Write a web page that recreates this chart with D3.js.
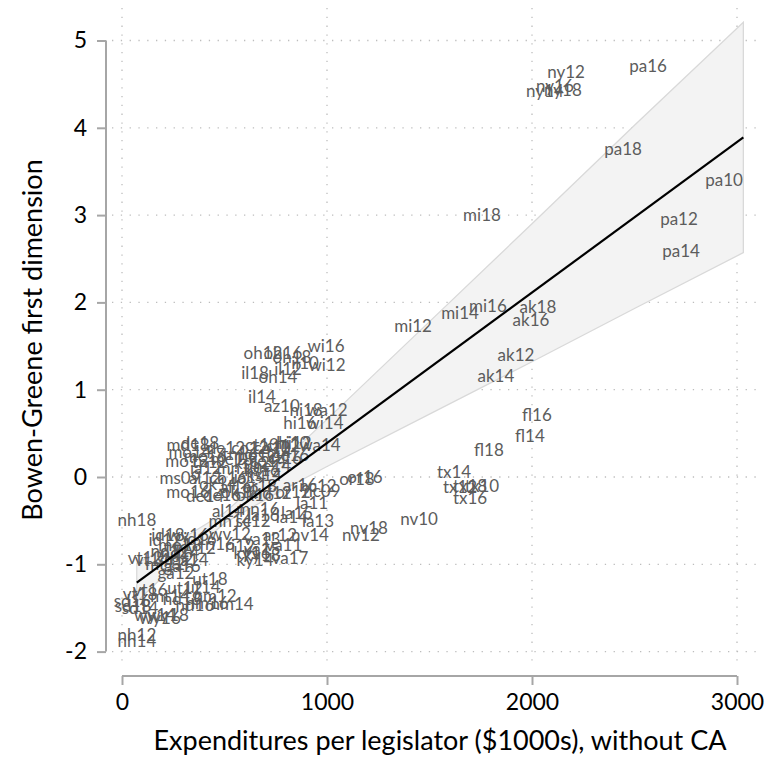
<!DOCTYPE html>
<html><head><meta charset="utf-8">
<script src="https://cdn.jsdelivr.net/npm/d3@7"></script>
<style>body{margin:0;background:#fff}svg{display:block}</style>
</head><body>
<script>
// ---- data ----
const xTicks = [0, 1000, 2000, 3000];
const yTicks = [-2, -1, 0, 1, 2, 3, 4, 5];
const xTitle = "Expenditures per legislator ($1000s), without CA";
const yTitle = "Bowen-Greene first dimension";

const labels = [
 "ny12","ny14","ny16","ny18","pa16","pa18","pa10","pa12","pa14","mi18",
 "mi12","mi14","mi16","ak18","ak16","ak12","ak14","fl16","fl14","fl18",
 "tx14","tx12","tx18","tx10","tx16","nv10","nv18","nv12","or16","or18",
 "wi16","oh12","oh16","oh18","il10","wi12","il18","il12","oh14","il14",
 "az10","hi18","wa12","hi16","wi14","hi10","wa14",
 "md18","de18","de12","co12","ct10","co10","ct12","hi12",
 "mo14","me16","tn16","ne12","ct14","ne16",
 "mo12","tn12","me18","ks12","co14","ct16",
 "ia12","mn10","ks16","ne14",
 "ms09","al12","co16","ia14","ks14",
 "ok14","al16","ar18","ar16","nc12",
 "mo16","de14","de16","ok12","ok16","md12","or12","nc09","la11",
 "al14","mn16","la15","la16",
 "nh18","mn14","sc12","la13","la14",
 "id18","wv16","id16","wv12","va13","ar12","nv14",
 "mo18","ri16","ri12","va15","va11",
 "vt12","vt14","ky16","ky18","ky14","va17",
 "nd12","nd14","sd12","ga14","ga16","ga12","wy12","mt12",
 "ut18","ut12","ut14","vt16","vt18","nm12","nm14","nm16","nd16",
 "sd18","sd16","sd14","wy14","wy18","wy16","nh12","nh14","mt14","nd18","id12"
];
const expend = [
 2166,2063,2112,2151,2566,2444,2937,2717,2727,1756,
 1420,1649,1785,2029,1995,1922,1824,2024,1990,1790,
 1620,1649,1698,1756,1698,1449,1205,1166,1185,1146,
 995,688,785,829,893,1000,649,810,761,683,
 780,898,1000,868,990,834,966,
 322,380,507,624,683,732,785,844,
 332,405,575,663,746,820,
 317,429,537,634,712,795,
 410,566,683,732,
 283,405,517,624,693,
 468,556,673,868,956,
 322,405,488,575,649,722,834,975,927,
 517,663,854,690,
 73,527,639,956,829,
 224,322,380,527,683,771,917,
 283,478,575,683,790,
 112,146,634,683,649,820,
 234,283,259,332,293,263,356,210,
 429,307,395,137,88,454,537,415,356,
 54,49,88,161,224,185,73,73,234,293,210
];
const bgDim = [
 4.65,4.43,4.48,4.44,4.71,3.76,3.41,2.96,2.60,3.01,
 1.74,1.88,1.97,1.95,1.80,1.40,1.16,0.72,0.47,0.32,
 0.06,-0.11,-0.10,-0.10,-0.23,-0.48,-0.58,-0.66,0.01,-0.02,
 1.51,1.43,1.43,1.38,1.31,1.29,1.20,1.24,1.15,0.92,
 0.82,0.77,0.77,0.63,0.63,0.39,0.37,
 0.37,0.39,0.34,0.34,0.37,0.34,0.36,0.40,
 0.29,0.25,0.27,0.25,0.29,0.26,
 0.19,0.18,0.21,0.17,0.19,0.22,
 0.11,0.11,0.09,0.13,
 0.00,0.00,-0.01,0.01,0.03,
 -0.08,-0.11,-0.10,-0.09,-0.10,
 -0.17,-0.21,-0.20,-0.17,-0.20,-0.18,-0.17,-0.15,-0.29,
 -0.38,-0.36,-0.41,-0.43,
 -0.49,-0.50,-0.50,-0.50,-0.45,
 -0.66,-0.66,-0.70,-0.65,-0.70,-0.66,-0.66,
 -0.77,-0.76,-0.78,-0.82,-0.77,
 -0.92,-0.95,-0.87,-0.89,-0.95,-0.92,
 -0.84,-0.86,-0.93,-0.95,-1.01,-1.09,-0.81,-0.99,
 -1.16,-1.27,-1.25,-1.29,-1.34,-1.36,-1.45,-1.44,-1.46,
 -1.47,-1.41,-1.49,-1.58,-1.57,-1.61,-1.80,-1.87,-1.36,-1.39,-0.72
];

// fitted line and 95% CI band
const fitX = [72, 3031];
const fitY = [-1.21, 3.89];
const bandX = [72, 250, 500, 750, 1000, 1500, 2000, 2500, 3031];
const bandUpper = [-0.99, -0.77, -0.41, 0.11, 0.66, 1.78, 2.90, 4.03, 5.21];
const bandLower = [-1.43, -1.03, -0.53, -0.19, 0.12, 0.72, 1.32, 1.93, 2.57];

// ---- drawing ----
const W = 765, H = 758;
const svg = d3.select("body").append("svg").attr("width", W).attr("height", H);
const x = d3.scaleLinear().domain([0, 3000]).range([122, 737]);
const y = d3.scaleLinear().domain([-2, 5]).range([651.6, 40.5]);
const FONT = "Lato, 'Open Sans', sans-serif";
const plotL = 112, plotR = 757, plotT = 8, plotB = 668;

// gridlines
const grid = svg.append("g").attr("stroke", "#bdbdbd").attr("stroke-width", 1.3)
  .attr("stroke-dasharray", "1.3,7.5").attr("fill", "none");
grid.selectAll("line.h").data(yTicks).join("line").attr("class", "h")
  .attr("x1", plotL).attr("x2", plotR).attr("y1", d => y(d)).attr("y2", d => y(d));
grid.selectAll("line.v").data(xTicks).join("line").attr("class", "v")
  .attr("y1", plotT).attr("y2", plotB).attr("x1", d => x(d)).attr("x2", d => x(d));

// CI band
const bandData = bandX.map((v, i) => ({x: v, lo: bandLower[i], hi: bandUpper[i]}));
const area = d3.area().x(d => x(d.x)).y0(d => y(d.lo)).y1(d => y(d.hi));
svg.append("path").attr("d", area(bandData))
  .attr("fill", "#f3f3f3").attr("stroke", "#d9d9d9").attr("stroke-width", 1.3);

// labels
svg.append("g").selectAll("text").data(labels).join("text")
  .attr("x", (d, i) => x(expend[i])).attr("y", (d, i) => y(bgDim[i]))
  .attr("text-anchor", "middle").attr("dominant-baseline", "central")
  .attr("font-family", FONT).attr("font-size", 17).attr("fill", "#5c5c5c")
  .text(d => d);

// fit line
svg.append("path").datum(fitX.map((v, i) => [v, fitY[i]]))
  .attr("d", d3.line().x(d => x(d[0])).y(d => y(d[1])))
  .attr("stroke", "#000").attr("stroke-width", 2.2).attr("fill", "none");

// axes
const xAxis = d3.axisBottom(x).tickValues(xTicks).tickSize(9).tickPadding(9).tickFormat(d3.format("d"));
const gx = svg.append("g").attr("transform", "translate(0,676)").call(xAxis);
gx.select(".domain").attr("d", `M${x(0)},0H${x(3000)}`);
const yAxis = d3.axisLeft(y).tickValues(yTicks).tickSize(9).tickPadding(10).tickFormat(d => d < 0 ? "-" + Math.abs(d) : d);
const gy = svg.append("g").attr("transform", "translate(106,0)").call(yAxis);
gy.select(".domain").attr("d", `M0,${y(-2)}V${y(5)}`);
[gx, gy].forEach(g => {
  g.selectAll(".domain, .tick line").attr("stroke", "#a6a6a6").attr("stroke-width", 2);
  g.selectAll(".tick text").attr("font-family", FONT).attr("font-size", 23).attr("fill", "#000");
});

svg.append("text").attr("x", 440).attr("y", 750).attr("text-anchor", "middle")
  .attr("font-family", FONT).attr("font-size", 27).text(xTitle);
svg.append("text").attr("transform", "translate(42,340) rotate(-90)").attr("text-anchor", "middle")
  .attr("font-family", FONT).attr("font-size", 27).text(yTitle);
</script>
</body></html>
